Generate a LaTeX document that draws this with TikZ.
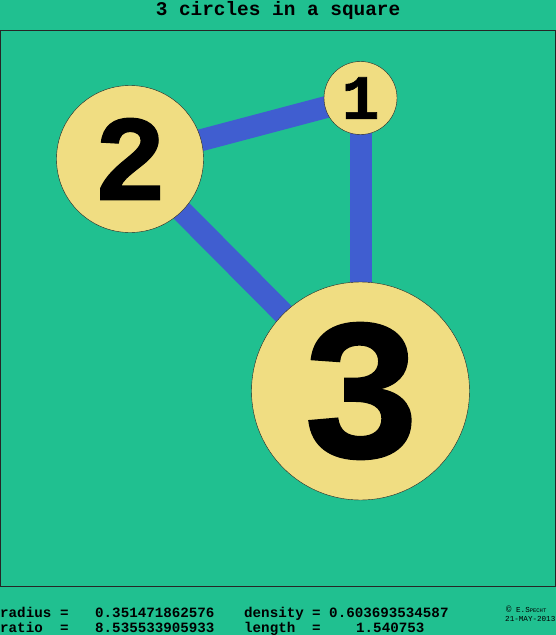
\documentclass[tikz,border=0pt]{standalone}
\usepackage{fontspec}
\setmonofont{Liberation Mono}
\newfontfamily\numfont[FakeBold=1]{Liberation Mono Bold}
\usetikzlibrary{positioning}

\definecolor{sheetgreen}{RGB}{32,192,144}
\definecolor{discyellow}{RGB}{240,221,130}
\definecolor{linkblue}{RGB}{64,94,208}

\pgfdeclarelayer{back}
\pgfdeclarelayer{links}
\pgfsetlayers{back,links,main}

\begin{document}
\begin{tikzpicture}[
    x=1pt, y=-1pt,
    disc/.style={circle, draw=black!85, thin, fill=discyellow,
                 inner sep=0pt},
    link/.style={draw=linkblue, line width=22pt},
    stat/.style={anchor=base west, inner sep=0pt,
                 font=\ttfamily\bfseries\fontsize{14.2}{16}\selectfont},
    stamp/.style={anchor=base west, inner sep=0pt,
                  font=\ttfamily\fontsize{7.6}{8}\selectfont}
]

    % Sheet and square
    \begin{pgfonlayer}{back}
        \fill [sheetgreen] (0,0) rectangle (556,635);
        \draw [black!85, line width=1pt] (0.5,30.5) rectangle (555.5,586.5);
    \end{pgfonlayer}
    \useasboundingbox (0,0) rectangle (556,635);

    \node (title) [anchor=base, inner sep=0pt, text height=11.5pt,
                   font=\ttfamily\bfseries\fontsize{19.4}{22}\selectfont]
        at (278,15.5) {3 circles in a square};

    % Circles
    \node (c1) [disc, minimum size=73pt,
                font=\numfont\fontsize{63}{63}\selectfont]
        at (360.5,98) {\raisebox{-1pt}{1}};
    \node (c2) [disc, minimum size=147pt,
                font=\numfont\fontsize{122}{122}\selectfont]
        at (130,159) {\raisebox{-3pt}{2}};
    \node (c3) [disc, minimum size=218pt,
                font=\numfont\fontsize{201}{201}\selectfont]
        at (360.5,391) {\raisebox{-3pt}{3}};

    % Contacts
    \begin{pgfonlayer}{links}
        \draw [link] (c2.center) -- (c1.center);
        \draw [link] (c1.center) -- (c3.center);
        \draw [link] (c2.center) -- (c3.center);
    \end{pgfonlayer}

    % Values
    \node (rlab) [stat] at (0,617) {radius};
    \node (req)  [stat] at (60,617) {=};
    \node (rval) [stat] at (95,617) {0.351471862576};
    \node (dlab) [stat] at (244,617) {density};
    \node (deq)  [stat] at (312,617) {= 0.603693534587};
    \node (qlab) [stat] at (0,632) {ratio};
    \node (qeq)  [stat] at (60,632) {=};
    \node (qval) [stat] at (95,632) {8.535533905933};
    \node (llab) [stat] at (244,632) {length};
    \node (leq)  [stat] at (312,632) {=};
    \node (lval) [stat] at (356,632) {1.540753};

    \node (copy) [stamp] at (506,612) {\fontsize{9}{9}\selectfont\textcopyright{}\fontsize{7.6}{8}\selectfont{} E.S{\fontsize{5.5}{6}\selectfont PECHT}};
    \node (date) [stamp] at (505,621) {21-MAY-2013};

\end{tikzpicture}
\end{document}
